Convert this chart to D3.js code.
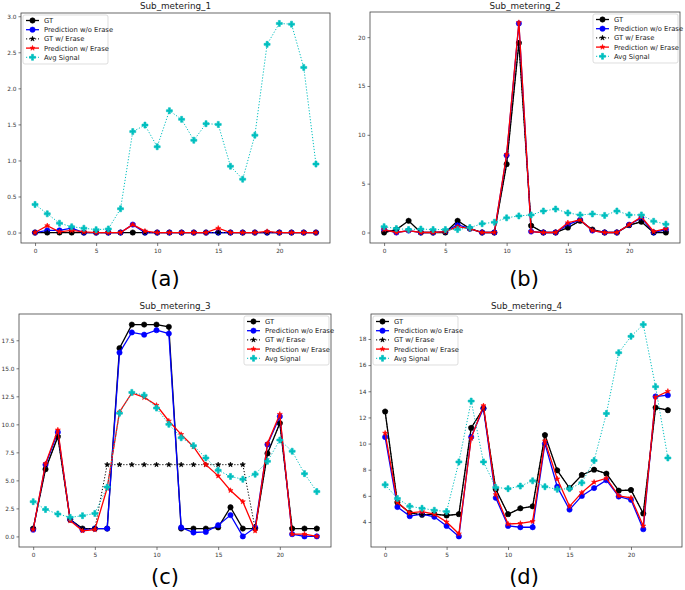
<!DOCTYPE html>
<html>
<head>
<meta charset="utf-8">
<script src="https://cdn.jsdelivr.net/npm/d3@7"></script>
<style>
  body { margin: 0; background: #fff; }
  svg { display: block; font-family: "DejaVu Sans", sans-serif; }
</style>
</head>
<body>
<svg id="chart" width="685" height="590"></svg>
<script>
// ---------- DATA ----------
const hours = d3.range(24);
const seriesNames = ["GT", "Prediction w/o Erase", "GT w/ Erase", "Prediction w/ Erase", "Avg Signal"];
const panelTitles = ["Sub_metering_1", "Sub_metering_2", "Sub_metering_3", "Sub_metering_4"];
const panelLabels = ["(a)", "(b)", "(c)", "(d)"];
const xTicks = [0, 5, 10, 15, 20];

// Sub_metering_1
const gt1      = [0,0,0,0,0,0,0,0,0,0,0,0,0,0,0,0,0,0,0,0,0,0,0,0];
const pred1    = [0,0.03,0.03,0.06,0,0,0,0,0.11,0,0,0,0,0,0,0,0,0,0,0,0,0,0,0];
const gtErase1 = [0,0,0,0,0,0,0,0,0,0,0,0,0,0,0,0,0,0,0,0,0,0,0,0];
const predErase1 = [0,0.095,0.01,0.03,0.01,0,0,0,0.11,0.02,0,0,0,0,0,0.06,0,0,0,0.015,0,0,0,0];
const avg1     = [0.39,0.26,0.13,0.08,0.06,0.04,0.05,0.33,1.40,1.49,1.19,1.69,1.57,1.28,1.51,1.50,0.92,0.74,1.35,2.61,2.90,2.89,2.29,0.95];
const yTicks1  = [0, 0.5, 1.0, 1.5, 2.0, 2.5, 3.0];

// Sub_metering_2
const gt2      = [0,0.3,1.2,0,0,0,1.2,0.4,0,0,7.0,19.4,0.7,0,0,0.5,1.2,0.3,0,0,0.75,1.1,0,0];
const pred2    = [0.3,0,0.2,0,0,0.1,0.8,0.4,0,0,7.9,21.4,0.1,0,0,0.8,1.3,0.2,0,0,0.8,1.5,0,0.3];
const gtErase2 = [0,0.3,1.2,0,0,0,1.2,0.4,0,0,7.0,19.4,0.7,0,0,0.5,1.2,0.3,0,0,0.75,1.1,0,0];
const predErase2 = [0.3,0,0.2,0,0,0.1,0.6,0.4,0,0,8.0,21.5,0.1,0,0,1.0,1.3,0.2,0,0,0.8,1.6,0.1,0.4];
const avg2     = [0.6,0.4,0.3,0.35,0.3,0.3,0.3,0.5,0.9,1.05,1.5,1.7,1.8,2.2,2.4,2.0,1.8,1.9,1.75,2.2,1.8,1.8,1.15,0.85];
const yTicks2  = [0, 5, 10, 15, 20];

// Sub_metering_3
const gt3      = [0.7,6.0,8.9,1.5,0.7,0.7,0.7,16.8,18.9,18.9,18.9,18.7,0.7,0.7,0.7,0.8,2.6,0.7,0.7,7.4,10.1,0.7,0.7,0.7];
const pred3    = [0.6,6.4,9.3,1.5,0.6,0.7,0.7,16.4,18.2,18.0,18.4,18.1,0.8,0.35,0.4,1.0,1.9,0.0,0.8,8.2,10.7,0.2,0.0,0.0];
const gtErase3 = [0.7,6.0,8.9,1.5,0.7,0.7,6.4,6.4,6.4,6.4,6.4,6.4,6.4,6.4,6.4,6.4,6.4,6.4,0.7,7.4,10.1,0.7,0.7,0.7];
const predErase3 = [0.6,6.5,9.5,1.4,0.5,0.6,4.3,11.1,12.8,12.4,11.7,10.3,9.1,8.0,6.4,5.4,4.1,3.1,0.5,8.3,10.9,0.2,0.2,0.0];
const avg3     = [3.1,2.4,2.0,1.7,1.85,2.05,4.4,11.0,12.85,12.6,11.45,10.0,8.8,8.1,7.0,5.9,5.35,5.1,5.55,6.7,8.6,7.6,5.6,4.0];
const yTicks3  = [0, 2.5, 5.0, 7.5, 10.0, 12.5, 15.0, 17.5];

// Sub_metering_4
const gt4      = [12.45,5.5,4.7,4.55,4.6,4.5,4.6,11.2,12.7,6.5,4.6,5.05,5.2,10.65,7.95,6.6,7.6,8.0,7.7,6.4,6.45,4.65,12.75,12.55];
const pred4    = [10.5,5.15,4.45,4.6,4.4,3.7,2.9,10.5,12.7,5.85,3.7,3.6,3.6,10.0,6.7,4.95,6.0,6.6,7.2,5.95,5.7,3.45,13.6,13.7];
const gtErase4 = [12.45,5.5,4.7,4.55,4.6,4.5,4.6,11.2,12.7,6.5,4.6,5.05,5.2,10.65,7.95,6.6,7.6,8.0,7.7,6.4,6.45,4.65,12.75,12.55];
const predErase4 = [10.8,5.5,4.7,4.8,4.6,4.0,3.1,10.4,12.9,6.1,3.85,3.9,4.05,10.2,7.3,5.2,6.25,7.05,7.35,6.0,5.85,3.7,13.55,14.0];
const avg4     = [6.85,5.8,5.2,5.05,4.9,4.8,8.6,13.25,8.6,6.65,6.55,6.75,7.15,6.7,6.5,6.55,7.0,8.7,12.3,16.95,18.2,19.1,14.35,8.9];
const yTicks4  = [4, 6, 8, 10, 12, 14, 16, 18];

// ---------- LAYOUT / STYLE ----------
const panels = [
  { series: [gt1, pred1, gtErase1, predErase1, avg1], yTicks: yTicks1, fmt: d3.format(".1f"),
    box: {l: 21, r: 330, t: 13, b: 243}, titleY: 9, legend: "left", labelPos: [165, 286] },
  { series: [gt2, pred2, gtErase2, predErase2, avg2], yTicks: yTicks2, fmt: d3.format("d"),
    box: {l: 370, r: 680, t: 12, b: 243}, titleY: 9, legend: "right", labelPos: [524, 286] },
  { series: [gt3, pred3, gtErase3, predErase3, avg3], yTicks: yTicks3, fmt: d3.format(".1f"),
    box: {l: 19, r: 331, t: 314, b: 547}, titleY: 309, legend: "right", labelPos: [165, 584] },
  { series: [gt4, pred4, gtErase4, predErase4, avg4], yTicks: yTicks4, fmt: d3.format("d"),
    box: {l: 371, r: 682, t: 314, b: 547}, titleY: 309, legend: "left", labelPos: [524, 584] }
];

const styles = [
  { color: "#000000", dash: null,      marker: d3.symbolCircle, size: 22, width: 1.3 },
  { color: "#0000ff", dash: null,      marker: d3.symbolCircle, size: 22, width: 1.3 },
  { color: "#000000", dash: "1.2,1.8", marker: d3.symbolStar,   size: 8,  width: 1.0 },
  { color: "#ff0000", dash: null,      marker: d3.symbolStar,   size: 8,  width: 1.3 },
  { color: "#00bfbf", dash: "1.2,1.8", marker: d3.symbolCross,  size: 20, width: 1.0 }
];

const svg = d3.select("#chart");

panels.forEach((p, pi) => {
  const B = p.box;
  const all = p.series.flat();
  const mn = d3.min(all), mx = d3.max(all);
  const pad = (mx - mn) * 0.05;
  const x = d3.scaleLinear().domain([-1.15, 24.15]).range([B.l, B.r]);
  const y = d3.scaleLinear().domain([mn - pad, mx + pad]).range([B.b, B.t]);

  const g = svg.append("g");

  // Title
  g.append("text").attr("x", (B.l + B.r) / 2).attr("y", p.titleY)
    .attr("text-anchor", "middle").attr("font-size", 8.8).attr("fill", "#222")
    .text(panelTitles[pi]);

  // Axes
  const xa = g.append("g").attr("transform", `translate(0,${B.b})`)
    .call(d3.axisBottom(x).tickValues(xTicks).tickSize(3).tickPadding(3).tickFormat(d3.format("d")));
  const ya = g.append("g").attr("transform", `translate(${B.l},0)`)
    .call(d3.axisLeft(y).tickValues(p.yTicks).tickSize(2.5).tickPadding(2).tickFormat(p.fmt));
  [xa, ya].forEach(a => {
    a.select(".domain").remove();
    a.selectAll("line").attr("stroke", "#444").attr("stroke-width", 0.7);
    a.selectAll("text").attr("font-size", 5.8).attr("fill", "#333")
      .attr("font-family", "DejaVu Sans, sans-serif");
  });

  // Clip
  const clipId = "clip" + pi;
  svg.append("clipPath").attr("id", clipId).append("rect")
    .attr("x", B.l).attr("y", B.t).attr("width", B.r - B.l).attr("height", B.b - B.t);
  const plot = g.append("g").attr("clip-path", `url(#${clipId})`);

  p.series.forEach((vals, si) => {
    const st = styles[si];
    const line = d3.line().x((d, i) => x(hours[i])).y(d => y(d));
    plot.append("path").datum(vals).attr("d", line)
      .attr("fill", "none").attr("stroke", st.color).attr("stroke-width", st.width)
      .attr("stroke-dasharray", st.dash);
    plot.selectAll(null).data(vals).enter().append("path")
      .attr("d", d3.symbol().type(st.marker).size(st.size))
      .attr("transform", (d, i) => `translate(${x(hours[i])},${y(d)})`)
      .attr("fill", st.color).attr("stroke", st.color).attr("stroke-width", 0.6);
  });

  // Frame
  g.append("rect").attr("x", B.l).attr("y", B.t).attr("width", B.r - B.l).attr("height", B.b - B.t)
    .attr("fill", "none").attr("stroke", "#444").attr("stroke-width", 0.8);

  // Legend
  const lw = 85, lh = 49;
  const lx = p.legend === "left" ? B.l + 2 : B.r - lw - 2;
  const ly = B.t + 2;
  const lg = g.append("g").attr("transform", `translate(${lx},${ly})`);
  lg.append("rect").attr("width", lw).attr("height", lh).attr("rx", 2)
    .attr("fill", "#fff").attr("fill-opacity", 0.85).attr("stroke", "#d0d0d0").attr("stroke-width", 0.7);
  seriesNames.forEach((name, si) => {
    const st = styles[si];
    const yy = 5.5 + si * 9.2;
    lg.append("line").attr("x1", 3).attr("x2", 16).attr("y1", yy).attr("y2", yy)
      .attr("stroke", st.color).attr("stroke-width", st.width).attr("stroke-dasharray", st.dash);
    lg.append("path").attr("d", d3.symbol().type(st.marker).size(st.size))
      .attr("transform", `translate(9.5,${yy})`).attr("fill", st.color).attr("stroke", st.color).attr("stroke-width", 0.6);
    lg.append("text").attr("x", 21).attr("y", yy + 2.4).attr("font-size", 6.8).attr("fill", "#222")
      .text(name);
  });

  // Sub-figure label
  svg.append("text").attr("x", p.labelPos[0]).attr("y", p.labelPos[1])
    .attr("text-anchor", "middle").attr("font-size", 21).attr("fill", "#000")
    .text(panelLabels[pi]);
});
</script>
</body>
</html>
